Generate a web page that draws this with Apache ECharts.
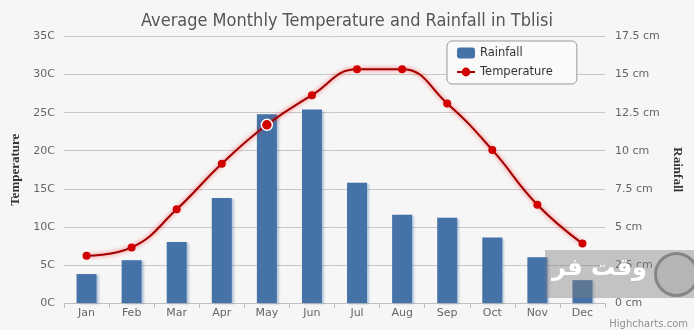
<!DOCTYPE html>
<html>
<head>
<meta charset="utf-8">
<script src="https://cdn.jsdelivr.net/npm/echarts@6/dist/echarts.min.js"></script>
<style>
  html, body { margin: 0; padding: 0; background: #f6f6f6; }
  #chart { width: 694px; height: 330px; }
</style>
</head>
<body>
<div id="chart"></div>
<script>
// Monthly climate figures for Tbilisi
const months = ['Jan', 'Feb', 'Mar', 'Apr', 'May', 'Jun', 'Jul', 'Aug', 'Sep', 'Oct', 'Nov', 'Dec'];
const rainfall = [1.9, 2.8, 4.0, 6.9, 12.4, 12.7, 7.9, 5.8, 5.6, 4.3, 3.0, 1.5];      // cm
const temperature = [6.2, 7.3, 12.3, 18.3, 23.4, 27.3, 30.7, 30.7, 26.2, 20.1, 12.9, 7.8]; // °C
const highlightedMonth = 'May';

const chart = echarts.init(document.getElementById('chart'), null, { renderer: 'canvas' });

const sans = 'DejaVu Sans, Verdana, sans-serif';
const labelStyle = { color: '#666', fontSize: 11, fontFamily: sans };
const axisNameStyle = { color: '#333', fontSize: 13, fontWeight: 'bold', fontFamily: 'Liberation Serif, Times New Roman, serif' };

chart.setOption({
  backgroundColor: '#f6f6f6',
  animation: false,
  title: {
    text: 'Average Monthly Temperature and Rainfall in Tblisi',
    left: 'center',
    top: 7,
    textStyle: { color: '#555', fontSize: 18, fontWeight: 'normal', fontFamily: 'DejaVu Sans Condensed, DejaVu Sans, sans-serif' }
  },
  legend: {
    orient: 'vertical',
    left: 447,
    top: 41,
    padding: [6, 24, 6, 9],
    itemGap: 7,
    itemWidth: 18,
    itemHeight: 11,
    borderColor: '#999',
    borderWidth: 1,
    borderRadius: 5,
    backgroundColor: '#fafafa',
    textStyle: { color: '#333', fontSize: 11.5, fontFamily: sans },
    data: [
      { name: 'Rainfall', icon: 'roundRect' },
      { name: 'Temperature' }
    ]
  },
  grid: { left: 64, right: 89, top: 36.5, bottom: 27, containLabel: false },
  xAxis: {
    type: 'category',
    data: months,
    axisLine: { lineStyle: { color: '#c0c0c0' } },
    axisTick: { show: true, length: 5, lineStyle: { color: '#c0c0c0' } },
    axisLabel: Object.assign({ margin: 5 }, labelStyle)
  },
  yAxis: [
    {
      type: 'value',
      min: 0, max: 35, interval: 5,
      name: 'Temperature',
      nameLocation: 'middle',
      nameGap: 42,
      nameTextStyle: axisNameStyle,
      axisLine: { show: false },
      axisTick: { show: false },
      splitLine: { lineStyle: { color: '#c8c8c8' } },
      axisLabel: Object.assign({ formatter: '{value}C', margin: 9 }, labelStyle)
    },
    {
      type: 'value',
      min: 0, max: 17.5, interval: 2.5,
      name: 'Rainfall',
      nameLocation: 'middle',
      nameGap: 60,
      nameRotate: -90,
      nameTextStyle: axisNameStyle,
      axisLine: { show: false },
      axisTick: { show: false },
      splitLine: { show: false },
      axisLabel: Object.assign({ formatter: '{value} cm', margin: 10 }, labelStyle)
    }
  ],
  series: [
    {
      name: 'Rainfall',
      type: 'bar',
      yAxisIndex: 1,
      barWidth: 20,
      data: rainfall,
      itemStyle: {
        color: '#4572a7',
        shadowColor: 'rgba(69,114,167,0.35)',
        shadowBlur: 2,
        shadowOffsetX: 2,
        shadowOffsetY: 1
      }
    },
    {
      name: 'Temperature',
      type: 'line',
      yAxisIndex: 0,
      smooth: 0.45,
      symbol: 'circle',
      symbolSize: 8,
      data: temperature.map((v, i) => months[i] === highlightedMonth
        ? { value: v, symbolSize: 11, itemStyle: { borderColor: '#fff', borderWidth: 1.5 } }
        : v),
      lineStyle: {
        color: '#a00000',
        width: 2,
        shadowColor: 'rgba(255,20,20,0.7)',
        shadowBlur: 4
      },
      itemStyle: { color: '#d00000' },
      z: 5
    }
  ],
  graphic: [
    {
      type: 'text',
      right: 6,
      bottom: 1,
      style: { text: 'Highcharts.com', fill: '#909090', fontSize: 10, fontFamily: sans }
    },
    {
      type: 'rect',
      left: 545, top: 250, z: 100,
      shape: { width: 149, height: 48 },
      style: { fill: 'rgba(125,125,125,0.42)' }
    },
    {
      type: 'circle',
      left: 654, top: 252, z: 101,
      shape: { r: 21 },
      style: { fill: 'rgba(150,150,150,0.3)', stroke: 'rgba(110,110,110,0.7)', lineWidth: 3 }
    },
    {
      type: 'text',
      left: 552, top: 257, z: 102,
      style: { text: 'وقت فر', fill: '#fff', fontSize: 24, fontWeight: 'bold', fontFamily: 'DejaVu Sans, sans-serif' }
    }
  ]
});
</script>
</body>
</html>
